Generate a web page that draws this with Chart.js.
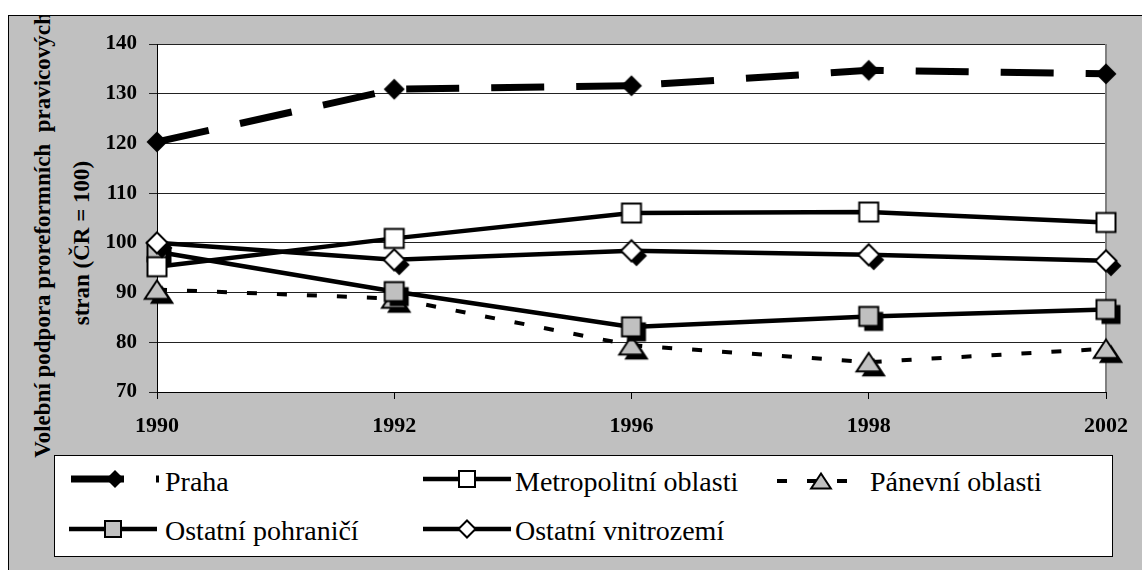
<!DOCTYPE html>
<html>
<head>
<meta charset="utf-8">
<script src="https://cdn.jsdelivr.net/npm/chart.js@4/dist/chart.umd.min.js"></script>
<style>
    html, body { margin: 0; padding: 0; background: #fff; }
    body { width: 1142px; height: 570px; position: relative; overflow: hidden; }
    #frame {
        position: absolute; left: 8px; top: 15px; width: 1160px; height: 580px;
        border: 1px solid #000; background: #c0c0c0; overflow: hidden;
    }
    .ytitle {
        position: absolute; width: 600px; height: 30px; line-height: 30px;
        text-align: center; white-space: pre;
        font: bold 23px "Liberation Serif", "Times New Roman", serif; color: #000;
        transform: rotate(-90deg);
    }
    #chartBox { position: absolute; left: 0; top: 0; width: 1142px; height: 570px; }
    #legend {
        position: absolute; left: 54px; top: 455px; width: 1057px; height: 100px;
        border: 1px solid #000; background: #fff;
    }
    #legend canvas { position: absolute; }
    #legend span {
        position: absolute; white-space: nowrap; line-height: 31px;
        font: 28px "Liberation Serif", "Times New Roman", serif; color: #000;
    }
</style>
</head>
<body>
<div id="frame">
    <div class="ytitle" style="left:-264px; top:204px;">Volební podpora proreformních  pravicových</div>
    <div class="ytitle" style="left:-225px; top:212px;">stran (ČR = 100)</div>
</div>
<div id="chartBox"><canvas id="chart" width="1142" height="570"></canvas></div>
<div id="legend"></div>

<script>
"use strict";

// --- data
const years = ["1990", "1992", "1996", "1998", "2002"];
const praha = [120.3, 130.9, 131.6, 134.7, 134.0];
const metropolitni = [95.2, 100.9, 106.0, 106.2, 104.1];
const panevni = [90.6, 88.8, 79.4, 76.0, 78.7];
const pohranici = [98.2, 90.2, 83.1, 85.2, 86.6];
const vnitrozemi = [100.0, 96.6, 98.4, 97.6, 96.4];
const yMin = 70;
const yMax = 140;
const yStep = 10;

const FONT = "'Liberation Serif', 'Times New Roman', serif";

// marker pictures (Excel style, some with a black drop shadow)
function marker(shape, size, fill, lineW, shadow) {
    const off = shadow ? 5 : 0;
    const d = 2 * Math.ceil((size + lineW) / 2) + 2 * off + 4;
    const c = document.createElement("canvas");
    c.width = d;
    c.height = d;
    const g = c.getContext("2d");
    const m = d / 2;
    const path = (cx, cy) => {
        const h = size / 2;
        g.beginPath();
        if (shape === "square") {
            g.rect(cx - h, cy - h, size, size);
        } else if (shape === "diamond") {
            g.moveTo(cx, cy - h);
            g.lineTo(cx + h, cy);
            g.lineTo(cx, cy + h);
            g.lineTo(cx - h, cy);
        } else {
            const w = size * 0.58;
            const t = size * 0.44;
            g.moveTo(cx, cy - t);
            g.lineTo(cx + w, cy + t);
            g.lineTo(cx - w, cy + t);
        }
        g.closePath();
    };
    g.lineJoin = "miter";
    if (shadow) {
        path(m + off, m + off);
        g.fillStyle = "#000";
        g.fill();
    }
    path(m, m);
    g.fillStyle = fill;
    g.fill();
    if (lineW > 0) {
        g.lineWidth = lineW;
        g.strokeStyle = "#000";
        g.stroke();
    }
    return c;
}

const series = [
    { label: "Praha", data: praha, width: 7, dash: [53, 32], order: 5,
      point: marker("diamond", 21, "#000", 0, false),
      legendPoint: marker("diamond", 18, "#000", 0, false) },
    { label: "Metropolitní oblasti", data: metropolitni, width: 4.5, dash: [], order: 2,
      point: marker("square", 19, "#fff", 2, false),
      legendPoint: marker("square", 16, "#fff", 2, false) },
    { label: "Pánevní oblasti", data: panevni, width: 4, dash: [10, 20], order: 4,
      point: marker("triangle", 21, "#c0c0c0", 2, true),
      legendPoint: marker("triangle", 17, "#c0c0c0", 2, false) },
    { label: "Ostatní pohraničí", data: pohranici, width: 4.5, dash: [], order: 3,
      point: marker("square", 19, "#c0c0c0", 2, true),
      legendPoint: marker("square", 16, "#c0c0c0", 2, false) },
    { label: "Ostatní vnitrozemí", data: vnitrozemi, width: 4.5, dash: [], order: 1,
      point: marker("diamond", 21, "#fff", 2, true),
      legendPoint: marker("diamond", 17, "#fff", 2, false) },
];

// white plot area + grey right edge
const plotFrame = {
    id: "plotFrame",
    beforeDraw(chart) {
        const { ctx, chartArea: a } = chart;
        ctx.save();
        ctx.fillStyle = "#fff";
        ctx.fillRect(a.left, a.top, a.right - a.left, a.bottom - a.top);
        ctx.restore();
    },
    beforeDatasetsDraw(chart) {
        const { ctx, chartArea: a } = chart;
        ctx.save();
        ctx.strokeStyle = "#808080";
        ctx.lineWidth = 2;
        ctx.beginPath();
        ctx.moveTo(a.right, a.top);
        ctx.lineTo(a.right, a.bottom);
        ctx.stroke();
        ctx.restore();
    },
};

new Chart(document.getElementById("chart"), {
    type: "line",
    data: {
        labels: years,
        datasets: series.map((s) => ({
            label: s.label,
            data: s.data,
            borderColor: "#000",
            borderWidth: s.width,
            borderDash: s.dash,
            borderCapStyle: "butt",
            tension: 0,
            fill: false,
            pointStyle: s.point,
            pointRadius: 10,
            pointHoverRadius: 10,
            order: s.order,
            clip: false,
        })),
    },
    options: {
        responsive: false,
        devicePixelRatio: 1,
        animation: false,
        events: [],
        layout: { padding: { left: 0, top: 44, right: 34, bottom: 128 } },
        plugins: { legend: { display: false }, tooltip: { enabled: false } },
        scales: {
            x: {
                offset: false,
                grid: { drawOnChartArea: false, drawTicks: true, tickLength: 7, color: "#000" },
                border: { color: "#000", width: 1 },
                ticks: {
                    color: "#000", padding: 14, maxRotation: 0, autoSkip: false,
                    font: { family: FONT, size: 22, weight: "bold" },
                },
                afterFit: (s) => { s.height = 50; },
            },
            y: {
                min: yMin,
                max: yMax,
                grid: { color: "#222", lineWidth: 1, tickLength: 8 },
                border: { color: "#000", width: 1 },
                ticks: {
                    stepSize: yStep, color: "#000", padding: 12,
                    font: { family: FONT, size: 21, weight: "bold" },
                },
                afterFit: (s) => { s.width = 157; },
            },
        },
    },
    plugins: [plotFrame],
});

// --- legend (html, positions in page px minus legend origin 55,456)
const legendBox = document.getElementById("legend");
const legendPlaces = [
    { x: 71, y: 479, tx: 165, ty: 466 },
    { x: 423, y: 479, tx: 515, ty: 466 },
    { x: 777, y: 481, tx: 870, ty: 466 },
    { x: 69, y: 529, tx: 165, ty: 515 },
    { x: 423, y: 529, tx: 515, ty: 515 },
];
series.forEach((s, i) => {
    const p = legendPlaces[i];
    const cv = document.createElement("canvas");
    cv.width = 89;
    cv.height = 30;
    cv.style.left = (p.x - 55) + "px";
    cv.style.top = (p.y - 15 - 456) + "px";
    const g = cv.getContext("2d");
    g.strokeStyle = "#000";
    g.lineWidth = s.width;
    g.setLineDash(s.dash);
    g.beginPath();
    g.moveTo(0, 15);
    g.lineTo(88, 15);
    g.stroke();
    const mk = s.legendPoint;
    g.drawImage(mk, 44 - mk.width / 2, 15 - mk.height / 2);
    legendBox.appendChild(cv);

    const t = document.createElement("span");
    t.textContent = s.label;
    t.style.left = (p.tx - 55) + "px";
    t.style.top = (p.ty - 456) + "px";
    legendBox.appendChild(t);
});
</script>
</body>
</html>
